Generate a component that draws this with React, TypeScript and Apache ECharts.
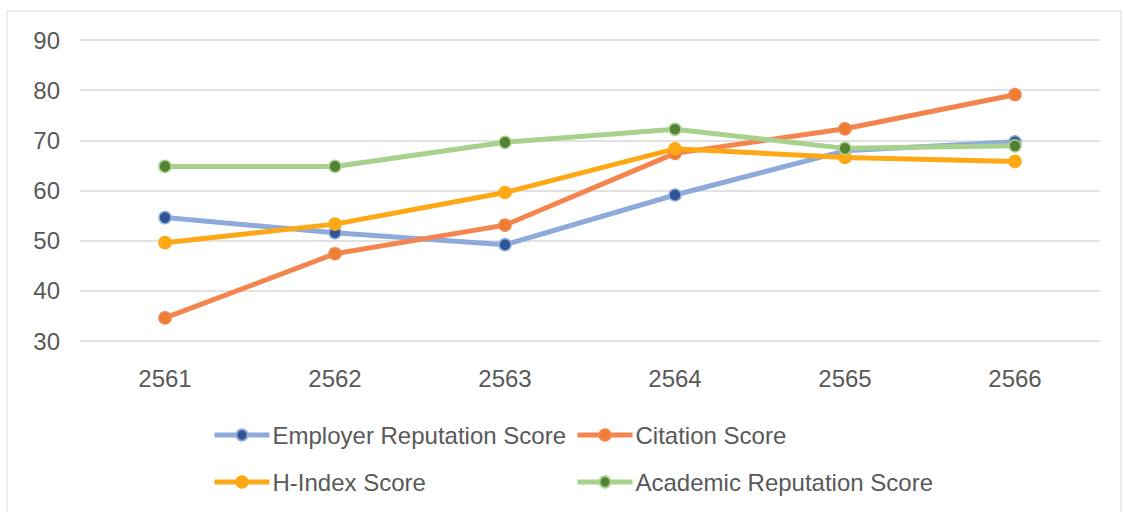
import React, { useEffect, useRef } from "react";
import * as echarts from "echarts";

const categories = ["2561", "2562", "2563", "2564", "2565", "2566"];
const employerScores = [54.6, 51.6, 49.2, 59.1, 67.9, 69.7];
const citationScores = [34.6, 47.4, 53.1, 67.4, 72.3, 79.1];
const hIndexScores = [49.6, 53.3, 59.6, 68.3, 66.6, 65.8];
const academicScores = [64.8, 64.8, 69.6, 72.2, 68.4, 68.9];
const seriesNames = [
  "Employer Reputation Score",
  "Citation Score",
  "H-Index Score",
  "Academic Reputation Score",
];

const FONT = "Liberation Sans, Arial, sans-serif";
const TEXT = "#595959";

export default function App() {
  const ref = useRef<HTMLDivElement>(null);
  useEffect(() => {
    document.body.style.margin = "0";
    const chart = echarts.init(ref.current!, undefined, { renderer: "svg" });
    const mk = (
      name: string,
      data: number[],
      lineColor: string,
      markerColor: string,
      borderColor: string
    ) => ({
      name,
      type: "line",
      data,
      symbol: "circle",
      symbolSize: 12,
      lineStyle: { color: lineColor, width: 5 },
      itemStyle: { color: markerColor, borderColor, borderWidth: 1.5 },
      emphasis: { disabled: true },
    });
    const legendBase = {
      padding: 0,
      itemWidth: 55,
      itemHeight: 14,
      itemGap: 0,
      lineStyle: { width: 5 },
      textStyle: { fontFamily: FONT, fontSize: 24, color: TEXT, padding: [0, 0, 0, -2] },
      selectedMode: false,
    };
    chart.setOption({
      animation: false,
      backgroundColor: "#ffffff",
      textStyle: { fontFamily: FONT },
      graphic: [
        {
          type: "rect",
          shape: { x: 7, y: 11, width: 1114, height: 520 },
          style: { fill: "none", stroke: "#d9d9d9", lineWidth: 1 },
          silent: true,
        },
      ],
      grid: { left: 80, right: 23, top: 40, bottom: 171, containLabel: false },
      xAxis: {
        type: "category",
        data: categories,
        boundaryGap: true,
        axisLine: { show: false },
        axisTick: { show: false },
        axisLabel: { color: TEXT, fontSize: 24, fontFamily: FONT, margin: 25 },
      },
      yAxis: {
        type: "value",
        min: 30,
        max: 90,
        interval: 10,
        axisLine: { show: false },
        axisTick: { show: false },
        axisLabel: { color: TEXT, fontSize: 24, fontFamily: FONT, margin: 20 },
        splitLine: { lineStyle: { color: "#d9d9d9", width: 1.5 } },
      },
      legend: [
        { ...legendBase, data: [seriesNames[0]], left: 212, top: 423 },
        { ...legendBase, data: [seriesNames[1]], left: 575, top: 423 },
        { ...legendBase, data: [seriesNames[2]], left: 212, top: 470 },
        { ...legendBase, data: [seriesNames[3]], left: 575, top: 470 },
      ],
      series: [
        mk(seriesNames[0], employerScores, "#8eaadb", "#2f5597", "#8eaadb"),
        mk(seriesNames[1], citationScores, "#f4854f", "#ed7d31", "#f4854f"),
        mk(seriesNames[2], hIndexScores, "#ffa815", "#ffa815", "#ffa815"),
        mk(seriesNames[3], academicScores, "#a9d18e", "#548235", "#a9d18e"),
      ],
    });
    return () => chart.dispose();
  }, []);
  return <div ref={ref} style={{ width: 1123, height: 512 }} />;
}
